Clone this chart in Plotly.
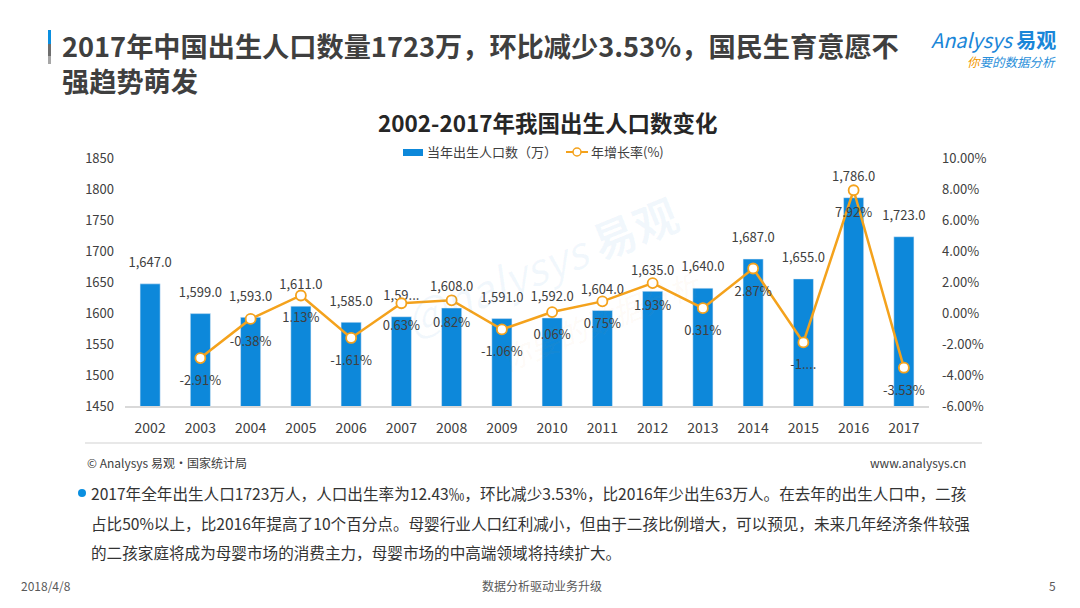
import plotly.graph_objects as go

W, H = 1080, 608

years = [str(y) for y in range(2002, 2018)]
births = [1647, 1599, 1593, 1611, 1585, 1594, 1608, 1591, 1592, 1604, 1635, 1640, 1687, 1655, 1786, 1723]
growth = [None, -2.91, -0.38, 1.13, -1.61, 0.63, 0.82, -1.06, 0.06, 0.75, 1.93, 0.31, 2.87, -1.90, 7.92, -3.53]
left_ticks = [1450, 1500, 1550, 1600, 1650, 1700, 1750, 1800, 1850]
right_ticks = [-6, -4, -2, 0, 2, 4, 6, 8, 10]
right_tick_labels = [f"{t:.2f}%" for t in right_ticks]
series_names = ["当年出生人口数（万）", "年增长率(%)"]

# labels as shown in the reference (two of them appear truncated)
bar_labels = [f"{v:,.1f}" for v in births]
bar_labels[5] = "1,59..."
growth_labels = ["" if g is None else f"{g:.2f}%" for g in growth]
growth_labels[13] = "-1...."

FONT = "Noto Sans CJK SC"
TXT = "#404040"
BLUE = "#0D88DA"
ORANGE = "#F4A21C"
OFF = 8  # page body margin of the rendered html


def px(x, y):
    return (x - OFF) / W, 1 - (y - OFF) / H


x0, x1 = (125 - OFF) / W, (929 - OFF) / W
y0, y1 = 1 - (406 - OFF) / H, 1 - (158 - OFF) / H

fig = go.Figure()
fig.add_trace(go.Bar(
    x=years, y=births, name=series_names[0],
    marker=dict(color=BLUE),
    yaxis="y", hoverinfo="x+y",
))
# bar value labels (invisible carrier markers give a larger offset above bar tops)
fig.add_trace(go.Scatter(
    x=years, y=births, mode="markers+text", showlegend=False, hoverinfo="skip",
    marker=dict(size=20, color="rgba(0,0,0,0)"),
    text=bar_labels, textposition="top center",
    textfont=dict(size=13, color=TXT, family=FONT),
    cliponaxis=False, yaxis="y",
))
fig.add_trace(go.Scatter(
    x=years, y=growth, name=series_names[1], mode="lines+markers",
    line=dict(color=ORANGE, width=2.5),
    marker=dict(size=10, color="white", line=dict(color=ORANGE, width=1.8)),
    cliponaxis=False, yaxis="y2",
))
fig.add_trace(go.Scatter(
    x=years, y=growth, mode="markers+text", showlegend=False, hoverinfo="skip",
    marker=dict(size=26, color="rgba(0,0,0,0)"),
    text=growth_labels, textposition="bottom center",
    textfont=dict(size=13, color=TXT, family=FONT),
    cliponaxis=False, yaxis="y2",
))

fig.update_layout(
    width=W, height=H,
    margin=dict(l=0, r=0, t=0, b=0, autoexpand=False),
    paper_bgcolor="white", plot_bgcolor="rgba(0,0,0,0)",
    font=dict(family=FONT, color=TXT, size=13),
    bargap=0.6,
    showlegend=False,
    xaxis=dict(domain=[x0, x1], range=[-0.5, len(years) - 0.5], showgrid=False, showline=True,
               linecolor="#D9D9D9", linewidth=1.5, ticks="", tickfont=dict(size=14, color=TXT),
               ticklabelstandoff=8, anchor="y", automargin=False),
    yaxis=dict(domain=[y0, y1], range=[1450, 1850], tickvals=left_ticks, showgrid=False,
               zeroline=False, showline=False, ticks="", tickfont=dict(size=13, color=TXT),
               ticklabelstandoff=10, automargin=False),
    yaxis2=dict(overlaying="y", side="right", range=[-6, 10], tickvals=right_ticks,
                ticktext=right_tick_labels, showgrid=False, zeroline=False, showline=False,
                ticks="", tickfont=dict(size=13, color=TXT), ticklabelstandoff=12, anchor="x",
                automargin=False),
)

ann = []


def add_text(x, y, text, size, color=TXT, xanchor="left", bold=False, **kw):
    xx, yy = px(x, y)
    if bold:
        text = f"<b>{text}</b>"
    ann.append(dict(x=xx, y=yy, xref="paper", yref="paper", text=text, showarrow=False,
                    xanchor=xanchor, yanchor="middle", font=dict(size=size, color=color, family=FONT),
                    align="left", borderpad=0, **kw))


# main title (two lines)
add_text(61, 62.5, "<b>2017年中国出生人口数量1723万，环比减少3.53%，国民生育意愿不</b><br><b>强趋势萌发</b>",
         27.2, "#3F3F3F")
# logo
add_text(1057, 39, "<i>Analysys</i> <b>易观</b>", 20, "#1A86D8", xanchor="right")
add_text(1057, 61, '<i><span style="color:#F39800">你</span>要的数据分析</i>', 12.5, "#2A8FDA", xanchor="right")
# chart title
add_text(548, 122, "2002-2017年我国出生人口数变化", 22.5, "#262626", xanchor="center", bold=True)
# legend texts
add_text(426, 152, series_names[0], 13)
add_text(590, 152, series_names[1], 13)
# watermark
ann.append(dict(x=px(540, 265)[0], y=px(540, 265)[1], xref="paper", yref="paper",
                text="<i>@nalysys</i> <b>易观</b>", showarrow=False, textangle=-22,
                font=dict(size=44, color="rgba(40,140,220,0.06)", family=FONT)))
ann.append(dict(x=px(600, 320)[0], y=px(600, 320)[1], xref="paper", yref="paper",
                text="<i>你要的数据分析</i>", showarrow=False, textangle=-22,
                font=dict(size=30, color="rgba(240,150,40,0.05)", family=FONT)))
# source
add_text(86, 462, "© Analysys 易观·国家统计局", 12)
add_text(967, 462, "www.analysys.cn", 12, xanchor="right")
# bullet text
add_text(90, 493, "2017年全年出生人口1723万人，人口出生率为12.43‰，环比减少3.53%，比2016年少出生63万人。在去年的出生人口中，二孩", 15.6, "#333333")
add_text(90, 523, "占比50%以上，比2016年提高了10个百分点。母婴行业人口红利减小，但由于二孩比例增大，可以预见，未来几年经济条件较强", 15.6, "#333333")
add_text(90, 552, "的二孩家庭将成为母婴市场的消费主力，母婴市场的中高端领域将持续扩大。", 15.6, "#333333")
# footer
add_text(20, 585, "2018/4/8", 12, "#595959")
add_text(542, 585, "数据分析驱动业务升级", 12, "#595959", xanchor="center")
add_text(1057, 585, "5", 12, "#595959", xanchor="right")

fig.update_layout(annotations=ann)

shapes = []


def rect(xa, ya, xb, yb, color):
    a = px(xa, ya)
    b = px(xb, yb)
    shapes.append(dict(type="rect", xref="paper", yref="paper", x0=a[0], y0=b[1], x1=b[0], y1=a[1],
                       fillcolor=color, line=dict(width=0)))


def circle(cx, cy, r, fill, line_color=None, lw=0):
    c = px(cx, cy)
    shapes.append(dict(type="circle", xref="paper", yref="paper", x0=c[0] - r / W, x1=c[0] + r / W,
                       y0=c[1] - r / H, y1=c[1] + r / H, fillcolor=fill,
                       line=dict(width=lw, color=line_color or fill)))


rect(48, 30, 51, 44, "#0A8FE0")
rect(48, 44, 51, 56, "#6E6E6E")
rect(48, 56, 51, 64, "#A6A6A6")
# legend symbols
rect(403, 149, 423, 156, BLUE)
la, lb = px(566, 152), px(588, 152)
shapes.append(dict(type="line", xref="paper", yref="paper", x0=la[0], y0=la[1], x1=lb[0], y1=lb[1],
                   line=dict(color=ORANGE, width=2)))
circle(577, 152, 4, "white", ORANGE, 1.5)
# separator line
rect(85, 442, 982, 444, "#E8E8E8")
# bullet dot
circle(82, 493, 4, "#0A8FE0")
fig.update_layout(shapes=shapes)

fig.write_html("out.html")
